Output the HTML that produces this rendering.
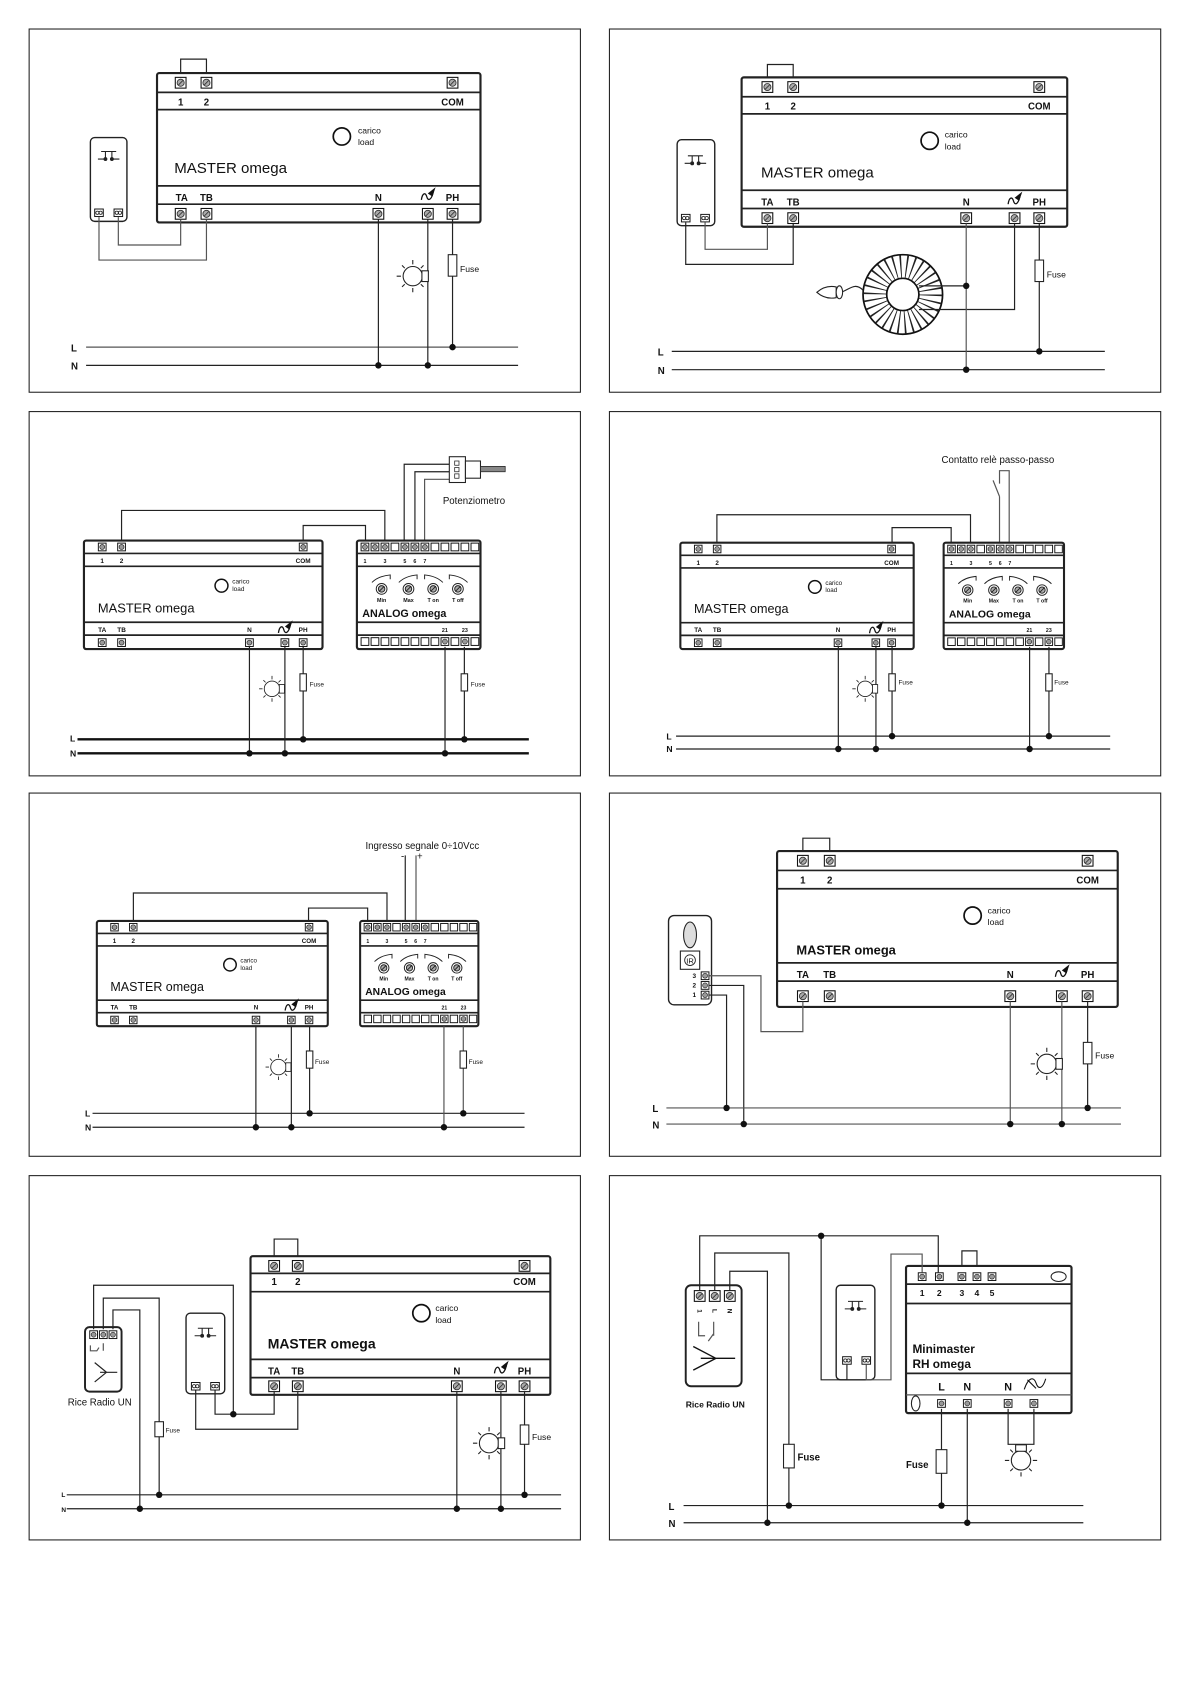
<!DOCTYPE html>
<html><head><meta charset="utf-8">
<style>
html,body{margin:0;padding:0;background:#fff}
svg{display:block}
text{font-family:"Liberation Sans",Arial,sans-serif;fill:#111}
.b{font-weight:bold}
.w{fill:none;stroke:#222;stroke-width:1.1}
.g{fill:none;stroke:#555;stroke-width:1.1}
.bx{fill:#fff;stroke:#222;stroke-width:2}
.ln{stroke:#222;stroke-width:1.6}
</style></head><body>
<svg width="1192" height="1685" viewBox="0 0 1109 1568" xmlns="http://www.w3.org/2000/svg">
<defs>
<g id="t"><rect x="-5" y="-5" width="10" height="10" fill="#fff" stroke="#111" stroke-width="1"/><circle r="3.3" fill="#aaa" stroke="#333" stroke-width="0.8"/><line x1="-2" y1="2" x2="2" y2="-2" stroke="#333" stroke-width="0.8"/></g>
<g id="ts"><rect x="-3.6" y="-3.6" width="7.2" height="7.2" fill="#fff" stroke="#111" stroke-width="0.9"/><circle r="2.3" fill="#999" stroke="#222" stroke-width="0.6"/></g>
<g id="sq"><rect x="-3.6" y="-3.6" width="7.2" height="7.2" fill="#fff" stroke="#111" stroke-width="0.9"/></g>
<g id="lamp" fill="none" stroke="#222" stroke-width="1"><circle r="9" fill="#fff"/><rect x="8.5" y="-5" width="6" height="10" fill="#fff"/><path d="M0 -11V-15M0 11V15M-11 0H-15M7.5 -7.5L10 -10M-7.5 -7.5L-10 -10M-7.5 7.5L-10 10M7.5 7.5L10 10"/></g>
<g id="lamp2" fill="none" stroke="#222" stroke-width="1"><circle r="9" fill="#fff"/><rect x="-5" y="-14.5" width="10" height="6" fill="#fff"/><path d="M0 11V15M-11 0H-15M11 0H15M7.5 -7.5L10 -10M-7.5 -7.5L-10 -10M-7.5 7.5L-10 10M7.5 7.5L10 10"/></g>
<g id="pb" fill="none" stroke="#222" stroke-width="1"><path d="M-7 0H7M-3 0V6M3 0V6M-10 7H-3M3 7H10"/><circle cx="-3" cy="7" r="1.3" fill="#222"/><circle cx="3" cy="7" r="1.3" fill="#222"/></g>
<g id="pt"><rect x="-4" y="-3.5" width="8" height="7" fill="#fff" stroke="#111" stroke-width="0.9"/><circle cx="-1.5" r="1.5" fill="none" stroke="#111" stroke-width="0.7"/><circle cx="1.5" r="1.5" fill="none" stroke="#111" stroke-width="0.7"/></g>
<g id="sym" fill="none" stroke="#111" stroke-width="1.2"><path d="M-6 4C-5 -3 -2 -3 -1 1S3 5 5 -3"/><path d="M1 -2L6 -6L4 0Z" fill="#111"/></g>
<g id="knob" fill="none" stroke="#222" stroke-width="0.9"><circle r="5"/><circle r="3" fill="#aaa"/><line x1="-2.5" y1="2.5" x2="2.5" y2="-2.5"/><path d="M-9 -6Q-3 -12 8 -13V-9"/></g>
<g id="knob2" fill="none" stroke="#222" stroke-width="0.9"><circle r="5"/><circle r="3" fill="#aaa"/><line x1="-2.5" y1="2.5" x2="2.5" y2="-2.5"/><path d="M9 -6Q3 -12 -8 -13V-9"/></g>
<g id="dot"><circle r="3" fill="#111"/></g>
</defs>

<!-- ===================== PANEL 1 ===================== -->
<rect x="27" y="27" width="513" height="338" fill="none" stroke="#222" stroke-width="1"/>
<path class="w" d="M168 72V55H192V72"/>
<rect class="bx" x="146" y="68" width="301" height="139" rx="2"/>
<path class="ln" d="M146 86H447M146 102H447M146 173H447M146 190H447"/>
<use href="#t" x="168" y="77"/><use href="#t" x="192" y="77"/><use href="#t" x="421" y="77"/>
<text class="b" x="168" y="98" font-size="9" text-anchor="middle">1</text>
<text class="b" x="192" y="98" font-size="9" text-anchor="middle">2</text>
<text class="b" x="421" y="98" font-size="9" text-anchor="middle">COM</text>
<circle cx="318" cy="127" r="8" fill="none" stroke="#111" stroke-width="1.6"/>
<text x="333" y="124" font-size="8">carico</text><text x="333" y="135" font-size="8">load</text>
<text x="162" y="161" font-size="14">MASTER omega</text>
<text class="b" x="169" y="187" font-size="9" text-anchor="middle">TA</text>
<text class="b" x="192" y="187" font-size="9" text-anchor="middle">TB</text>
<text class="b" x="352" y="187" font-size="9" text-anchor="middle">N</text>
<use href="#sym" x="398" y="182"/>
<text class="b" x="421" y="187" font-size="9" text-anchor="middle">PH</text>
<use href="#t" x="168" y="199"/><use href="#t" x="192" y="199"/><use href="#t" x="352" y="199"/><use href="#t" x="398" y="199"/><use href="#t" x="421" y="199"/>
<rect x="84" y="128" width="34" height="78" rx="4" fill="#fff" stroke="#222" stroke-width="1.3"/>
<use href="#pb" x="101" y="141"/>
<use href="#pt" x="92" y="198"/><use href="#pt" x="110" y="198"/>
<path class="g" d="M110 202V228H168V204M92 202V242H192V204"/>
<text class="b" x="66" y="327" font-size="9">L</text><text class="b" x="66" y="344" font-size="9">N</text>
<path class="g" d="M80 323H482"/><path class="w" d="M80 340H482"/>
<path class="w" d="M352 204V340M398 204V340M421 204V323"/>
<use href="#lamp" x="384" y="257"/>
<rect x="417" y="237" width="8" height="20" fill="#fff" stroke="#222"/>
<text x="428" y="253" font-size="8">Fuse</text>
<use href="#dot" x="421" y="323"/><use href="#dot" x="352" y="340"/><use href="#dot" x="398" y="340"/>

<!-- ===================== PANEL 2 ===================== -->
<rect x="567" y="27" width="513" height="338" fill="none" stroke="#222" stroke-width="1"/>
<path class="w" d="M714 76V60H738V76"/>
<rect class="bx" x="690" y="72" width="303" height="139" rx="2"/>
<path class="ln" d="M690 90H993M690 106H993M690 177H993M690 194H993"/>
<use href="#t" x="714" y="81"/><use href="#t" x="738" y="81"/><use href="#t" x="967" y="81"/>
<text class="b" x="714" y="102" font-size="9" text-anchor="middle">1</text>
<text class="b" x="738" y="102" font-size="9" text-anchor="middle">2</text>
<text class="b" x="967" y="102" font-size="9" text-anchor="middle">COM</text>
<circle cx="865" cy="131" r="8" fill="none" stroke="#111" stroke-width="1.6"/>
<text x="879" y="128" font-size="8">carico</text><text x="879" y="139" font-size="8">load</text>
<text x="708" y="165" font-size="14">MASTER omega</text>
<text class="b" x="714" y="191" font-size="9" text-anchor="middle">TA</text>
<text class="b" x="738" y="191" font-size="9" text-anchor="middle">TB</text>
<text class="b" x="899" y="191" font-size="9" text-anchor="middle">N</text>
<use href="#sym" x="944" y="186"/>
<text class="b" x="967" y="191" font-size="9" text-anchor="middle">PH</text>
<use href="#t" x="714" y="203"/><use href="#t" x="738" y="203"/><use href="#t" x="899" y="203"/><use href="#t" x="944" y="203"/><use href="#t" x="967" y="203"/>
<rect x="630" y="130" width="35" height="80" rx="4" fill="#fff" stroke="#222" stroke-width="1.3"/>
<use href="#pb" x="647" y="145"/>
<use href="#pt" x="638" y="203"/><use href="#pt" x="656" y="203"/>
<path class="w" d="M638 207V246H738V208"/><path class="g" d="M656 207V232H714V208"/>
<circle cx="840" cy="274" r="37" fill="#fff" stroke="#111" stroke-width="1.6"/>
<circle cx="840" cy="274" r="26" fill="none" stroke="#222" stroke-width="21" stroke-dasharray="1.2 4.25"/>
<circle cx="840" cy="274" r="15" fill="#fff" stroke="#111" stroke-width="1.6"/>
<path class="w" d="M803 270C795 262 790 270 782 272"/>
<path d="M760 272Q768 265 778 267V277Q768 279 760 272Z" fill="#fff" stroke="#222"/>
<ellipse cx="781" cy="272" rx="3" ry="6" fill="#fff" stroke="#222"/>
<path class="w" d="M855 266H899M855 288H944V208"/>
<text class="b" x="612" y="331" font-size="9">L</text><text class="b" x="612" y="348" font-size="9">N</text>
<path class="w" d="M625 327H1028M625 344H1028"/>
<path class="g" d="M899 208V344"/><path class="w" d="M967 208V327"/>
<rect x="963" y="242" width="8" height="20" fill="#fff" stroke="#222"/>
<text x="974" y="258" font-size="8">Fuse</text>
<use href="#dot" x="899" y="266"/><use href="#dot" x="967" y="327"/><use href="#dot" x="899" y="344"/>

<!-- ===================== PANEL 3 ===================== -->
<rect x="27" y="383" width="513" height="339" fill="none" stroke="#222" stroke-width="1"/>
<path class="w" d="M113 504V475H358V504M282 504V489H340V504"/>
<path class="w" d="M376 504V432H420M386 504V439H420"/><path class="g" d="M395 504V446H420"/>
<rect x="418" y="425" width="15" height="24" fill="#fff" stroke="#222"/>
<path d="M423 429h4v4h-4zM423 435h4v4h-4zM423 441h4v4h-4z" fill="none" stroke="#222" stroke-width="0.7"/>
<rect x="433" y="429" width="14" height="16" fill="#fff" stroke="#222"/>
<rect x="447" y="434" width="23" height="5" fill="#888" stroke="#222" stroke-width="0.7"/>
<text x="412" y="469" font-size="9">Potenziometro</text>
<g transform="translate(78,503)">
<rect class="bx" x="0" y="0" width="222" height="101" rx="2"/>
<path class="ln" d="M0 12H222M0 24H222M0 76H222M0 88H222"/>
<use href="#ts" x="17" y="6"/><use href="#ts" x="35" y="6"/><use href="#ts" x="204" y="6"/>
<text class="b" x="17" y="21" font-size="6" text-anchor="middle">1</text><text class="b" x="35" y="21" font-size="6" text-anchor="middle">2</text><text class="b" x="204" y="21" font-size="6" text-anchor="middle">COM</text>
<circle cx="128" cy="42" r="6" fill="none" stroke="#111" stroke-width="1.4"/>
<text x="138" y="40" font-size="6">carico</text><text x="138" y="47" font-size="6">load</text>
<text x="13" y="67" font-size="12">MASTER omega</text>
<text class="b" x="17" y="85" font-size="6" text-anchor="middle">TA</text><text class="b" x="35" y="85" font-size="6" text-anchor="middle">TB</text><text class="b" x="154" y="85" font-size="6" text-anchor="middle">N</text><use href="#sym" x="187" y="82" transform="scale(1)"/><text class="b" x="204" y="85" font-size="6" text-anchor="middle">PH</text>
<use href="#ts" x="17" y="95"/><use href="#ts" x="35" y="95"/><use href="#ts" x="154" y="95"/><use href="#ts" x="187" y="95"/><use href="#ts" x="204" y="95"/>
</g>
<g transform="translate(332,503)">
<rect class="bx" x="0" y="0" width="115" height="101" rx="2"/>
<path class="ln" d="M0 12H115M0 24H115M0 76H115M0 88H115"/>
<use href="#ts" x="7.5" y="6"/><use href="#ts" x="16.8" y="6"/><use href="#ts" x="26.1" y="6"/><use href="#sq" x="35.4" y="6"/><use href="#ts" x="44.7" y="6"/><use href="#ts" x="54" y="6"/><use href="#ts" x="63.3" y="6"/><use href="#sq" x="72.6" y="6"/><use href="#sq" x="81.9" y="6"/><use href="#sq" x="91.2" y="6"/><use href="#sq" x="100.5" y="6"/><use href="#sq" x="109.8" y="6"/>
<text class="b" x="7.5" y="21" font-size="5" text-anchor="middle">1</text><text class="b" x="26.1" y="21" font-size="5" text-anchor="middle">3</text><text class="b" x="44.7" y="21" font-size="5" text-anchor="middle">5</text><text class="b" x="54" y="21" font-size="5" text-anchor="middle">6</text><text class="b" x="63.3" y="21" font-size="5" text-anchor="middle">7</text>
<use href="#knob" x="23" y="45"/><use href="#knob" x="48" y="45"/><use href="#knob2" x="71" y="45"/><use href="#knob2" x="94" y="45"/>
<text class="b" x="23" y="57" font-size="5" text-anchor="middle">Min</text><text class="b" x="48" y="57" font-size="5" text-anchor="middle">Max</text><text class="b" x="71" y="57" font-size="5" text-anchor="middle">T on</text><text class="b" x="94" y="57" font-size="5" text-anchor="middle">T off</text>
<text class="b" x="5" y="71" font-size="10">ANALOG omega</text>
<text class="b" x="81.9" y="85" font-size="5" text-anchor="middle">21</text><text class="b" x="100.5" y="85" font-size="5" text-anchor="middle">23</text>
<use href="#sq" x="7.5" y="94"/><use href="#sq" x="16.8" y="94"/><use href="#sq" x="26.1" y="94"/><use href="#sq" x="35.4" y="94"/><use href="#sq" x="44.7" y="94"/><use href="#sq" x="54" y="94"/><use href="#sq" x="63.3" y="94"/><use href="#sq" x="72.6" y="94"/><use href="#ts" x="81.9" y="94"/><use href="#sq" x="91.2" y="94"/><use href="#ts" x="100.5" y="94"/><use href="#sq" x="109.8" y="94"/>
</g>
<text class="b" x="65" y="690" font-size="8">L</text><text class="b" x="65" y="704" font-size="8">N</text>
<path d="M72 688H492M72 701H492" stroke="#111" stroke-width="2.2"/>
<path class="w" d="M232 602V701M265 602V701M282 602V688M414 602V701M432 602V688"/>
<use href="#lamp" x="253" y="641" transform="translate(253,641) scale(0.8) translate(-253,-641)"/>
<rect x="279" y="627" width="6" height="16" fill="#fff" stroke="#222"/><text x="288" y="639" font-size="6">Fuse</text>
<rect x="429" y="627" width="6" height="16" fill="#fff" stroke="#222"/><text x="438" y="639" font-size="6">Fuse</text>
<use href="#dot" x="282" y="688"/><use href="#dot" x="432" y="688"/><use href="#dot" x="232" y="701"/><use href="#dot" x="265" y="701"/><use href="#dot" x="414" y="701"/>

<!-- ===================== PANEL 4 ===================== -->
<rect x="567" y="383" width="513" height="339" fill="none" stroke="#222" stroke-width="1"/>
<text x="876" y="431" font-size="9">Contatto relè passo-passo</text>
<path class="w" d="M667 506V479H903V506M830 506V491H885V506"/>
<path class="g" d="M930 506V462M930 462L924 447M930 450V438H939V506"/>
<g transform="translate(633,505) scale(0.978,0.98)">
<rect class="bx" x="0" y="0" width="222" height="101" rx="2"/>
<path class="ln" d="M0 12H222M0 24H222M0 76H222M0 88H222"/>
<use href="#ts" x="17" y="6"/><use href="#ts" x="35" y="6"/><use href="#ts" x="201" y="6"/>
<text class="b" x="17" y="21" font-size="6" text-anchor="middle">1</text><text class="b" x="35" y="21" font-size="6" text-anchor="middle">2</text><text class="b" x="201" y="21" font-size="6" text-anchor="middle">COM</text>
<circle cx="128" cy="42" r="6" fill="none" stroke="#111" stroke-width="1.4"/>
<text x="138" y="40" font-size="6">carico</text><text x="138" y="47" font-size="6">load</text>
<text x="13" y="67" font-size="12">MASTER omega</text>
<text class="b" x="17" y="85" font-size="6" text-anchor="middle">TA</text><text class="b" x="35" y="85" font-size="6" text-anchor="middle">TB</text><text class="b" x="150" y="85" font-size="6" text-anchor="middle">N</text><use href="#sym" x="186" y="82"/><text class="b" x="201" y="85" font-size="6" text-anchor="middle">PH</text>
<use href="#ts" x="17" y="95"/><use href="#ts" x="35" y="95"/><use href="#ts" x="150" y="95"/><use href="#ts" x="186" y="95"/><use href="#ts" x="201" y="95"/>
</g>
<g transform="translate(878,505) scale(0.974,0.98)">
<rect class="bx" x="0" y="0" width="115" height="101" rx="2"/>
<path class="ln" d="M0 12H115M0 24H115M0 76H115M0 88H115"/>
<use href="#ts" x="7.5" y="6"/><use href="#ts" x="16.8" y="6"/><use href="#ts" x="26.1" y="6"/><use href="#sq" x="35.4" y="6"/><use href="#ts" x="44.7" y="6"/><use href="#ts" x="54" y="6"/><use href="#ts" x="63.3" y="6"/><use href="#sq" x="72.6" y="6"/><use href="#sq" x="81.9" y="6"/><use href="#sq" x="91.2" y="6"/><use href="#sq" x="100.5" y="6"/><use href="#sq" x="109.8" y="6"/>
<text class="b" x="7.5" y="21" font-size="5" text-anchor="middle">1</text><text class="b" x="26.1" y="21" font-size="5" text-anchor="middle">3</text><text class="b" x="44.7" y="21" font-size="5" text-anchor="middle">5</text><text class="b" x="54" y="21" font-size="5" text-anchor="middle">6</text><text class="b" x="63.3" y="21" font-size="5" text-anchor="middle">7</text>
<use href="#knob" x="23" y="45"/><use href="#knob" x="48" y="45"/><use href="#knob2" x="71" y="45"/><use href="#knob2" x="94" y="45"/>
<text class="b" x="23" y="57" font-size="5" text-anchor="middle">Min</text><text class="b" x="48" y="57" font-size="5" text-anchor="middle">Max</text><text class="b" x="71" y="57" font-size="5" text-anchor="middle">T on</text><text class="b" x="94" y="57" font-size="5" text-anchor="middle">T off</text>
<text class="b" x="5" y="71" font-size="10">ANALOG omega</text>
<text class="b" x="81.9" y="85" font-size="5" text-anchor="middle">21</text><text class="b" x="100.5" y="85" font-size="5" text-anchor="middle">23</text>
<use href="#sq" x="7.5" y="94"/><use href="#sq" x="16.8" y="94"/><use href="#sq" x="26.1" y="94"/><use href="#sq" x="35.4" y="94"/><use href="#sq" x="44.7" y="94"/><use href="#sq" x="54" y="94"/><use href="#sq" x="63.3" y="94"/><use href="#sq" x="72.6" y="94"/><use href="#ts" x="81.9" y="94"/><use href="#sq" x="91.2" y="94"/><use href="#ts" x="100.5" y="94"/><use href="#sq" x="109.8" y="94"/>
</g>
<text class="b" x="620" y="688" font-size="8">L</text><text class="b" x="620" y="700" font-size="8">N</text>
<path class="w" d="M629 685H1033M629 697H1033"/>
<path class="w" d="M780 602V697M815 602V697M830 602V685M958 602V697M976 602V685"/>
<use href="#lamp" x="805" y="641" transform="translate(805,641) scale(0.8) translate(-805,-641)"/>
<rect x="827" y="627" width="6" height="16" fill="#fff" stroke="#222"/><text x="836" y="637" font-size="6">Fuse</text>
<rect x="973" y="627" width="6" height="16" fill="#fff" stroke="#222"/><text x="981" y="637" font-size="6">Fuse</text>
<use href="#dot" x="830" y="685"/><use href="#dot" x="976" y="685"/><use href="#dot" x="780" y="697"/><use href="#dot" x="815" y="697"/><use href="#dot" x="958" y="697"/>

<!-- ===================== PANEL 5 ===================== -->
<rect x="27" y="738" width="513" height="338" fill="none" stroke="#222" stroke-width="1"/>
<text x="340" y="790" font-size="9">Ingresso segnale 0÷10Vcc</text>
<text x="373" y="800" font-size="9">-</text><text x="388" y="800" font-size="9">+</text>
<path class="w" d="M377 858V796"/><path class="g" d="M387 858V796"/>
<path class="w" d="M124 858V831H360V858M287 858V845H342V858"/>
<g transform="translate(90,857) scale(0.968,0.97)">
<rect class="bx" x="0" y="0" width="222" height="101" rx="2"/>
<path class="ln" d="M0 12H222M0 24H222M0 76H222M0 88H222"/>
<use href="#ts" x="17" y="6"/><use href="#ts" x="35" y="6"/><use href="#ts" x="204" y="6"/>
<text class="b" x="17" y="21" font-size="6" text-anchor="middle">1</text><text class="b" x="35" y="21" font-size="6" text-anchor="middle">2</text><text class="b" x="204" y="21" font-size="6" text-anchor="middle">COM</text>
<circle cx="128" cy="42" r="6" fill="none" stroke="#111" stroke-width="1.4"/>
<text x="138" y="40" font-size="6">carico</text><text x="138" y="47" font-size="6">load</text>
<text x="13" y="67" font-size="12">MASTER omega</text>
<text class="b" x="17" y="85" font-size="6" text-anchor="middle">TA</text><text class="b" x="35" y="85" font-size="6" text-anchor="middle">TB</text><text class="b" x="153" y="85" font-size="6" text-anchor="middle">N</text><use href="#sym" x="187" y="82"/><text class="b" x="204" y="85" font-size="6" text-anchor="middle">PH</text>
<use href="#ts" x="17" y="95"/><use href="#ts" x="35" y="95"/><use href="#ts" x="153" y="95"/><use href="#ts" x="187" y="95"/><use href="#ts" x="204" y="95"/>
</g>
<g transform="translate(335,857) scale(0.957,0.97)">
<rect class="bx" x="0" y="0" width="115" height="101" rx="2"/>
<path class="ln" d="M0 12H115M0 24H115M0 76H115M0 88H115"/>
<use href="#ts" x="7.5" y="6"/><use href="#ts" x="16.8" y="6"/><use href="#ts" x="26.1" y="6"/><use href="#sq" x="35.4" y="6"/><use href="#ts" x="44.7" y="6"/><use href="#ts" x="54" y="6"/><use href="#ts" x="63.3" y="6"/><use href="#sq" x="72.6" y="6"/><use href="#sq" x="81.9" y="6"/><use href="#sq" x="91.2" y="6"/><use href="#sq" x="100.5" y="6"/><use href="#sq" x="109.8" y="6"/>
<text class="b" x="7.5" y="21" font-size="5" text-anchor="middle">1</text><text class="b" x="26.1" y="21" font-size="5" text-anchor="middle">3</text><text class="b" x="44.7" y="21" font-size="5" text-anchor="middle">5</text><text class="b" x="54" y="21" font-size="5" text-anchor="middle">6</text><text class="b" x="63.3" y="21" font-size="5" text-anchor="middle">7</text>
<use href="#knob" x="23" y="45"/><use href="#knob" x="48" y="45"/><use href="#knob2" x="71" y="45"/><use href="#knob2" x="94" y="45"/>
<text class="b" x="23" y="57" font-size="5" text-anchor="middle">Min</text><text class="b" x="48" y="57" font-size="5" text-anchor="middle">Max</text><text class="b" x="71" y="57" font-size="5" text-anchor="middle">T on</text><text class="b" x="94" y="57" font-size="5" text-anchor="middle">T off</text>
<text class="b" x="5" y="71" font-size="10">ANALOG omega</text>
<text class="b" x="81.9" y="85" font-size="5" text-anchor="middle">21</text><text class="b" x="100.5" y="85" font-size="5" text-anchor="middle">23</text>
<use href="#sq" x="7.5" y="94"/><use href="#sq" x="16.8" y="94"/><use href="#sq" x="26.1" y="94"/><use href="#sq" x="35.4" y="94"/><use href="#sq" x="44.7" y="94"/><use href="#sq" x="54" y="94"/><use href="#sq" x="63.3" y="94"/><use href="#sq" x="72.6" y="94"/><use href="#ts" x="81.9" y="94"/><use href="#sq" x="91.2" y="94"/><use href="#ts" x="100.5" y="94"/><use href="#sq" x="109.8" y="94"/>
</g>
<text class="b" x="79" y="1039" font-size="8">L</text><text class="b" x="79" y="1052" font-size="8">N</text>
<path class="w" d="M86 1036H488M86 1049H488"/>
<path class="w" d="M238 955V1049M271 955V1049M288 955V1036"/><path class="g" d="M413 955V1049M431 955V1036"/>
<use href="#lamp" x="259" y="993" transform="translate(259,993) scale(0.8) translate(-259,-993)"/>
<rect x="285" y="978" width="6" height="16" fill="#fff" stroke="#222"/><text x="293" y="990" font-size="6">Fuse</text>
<rect x="428" y="978" width="6" height="16" fill="#fff" stroke="#222"/><text x="436" y="990" font-size="6">Fuse</text>
<use href="#dot" x="288" y="1036"/><use href="#dot" x="431" y="1036"/><use href="#dot" x="238" y="1049"/><use href="#dot" x="271" y="1049"/><use href="#dot" x="413" y="1049"/>

<!-- ===================== PANEL 6 ===================== -->
<rect x="567" y="738" width="513" height="338" fill="none" stroke="#222" stroke-width="1"/>
<path class="w" d="M747 797V780H772V797"/>
<rect class="bx" x="723" y="792" width="317" height="145" rx="2"/>
<path class="ln" d="M723 810H1040M723 827H1040M723 896H1040M723 913H1040"/>
<use href="#t" x="747" y="801"/><use href="#t" x="772" y="801"/><use href="#t" x="1012" y="801"/>
<text class="b" x="747" y="822" font-size="9" text-anchor="middle">1</text>
<text class="b" x="772" y="822" font-size="9" text-anchor="middle">2</text>
<text class="b" x="1012" y="822" font-size="9" text-anchor="middle">COM</text>
<circle cx="905" cy="852" r="8" fill="none" stroke="#111" stroke-width="1.6"/>
<text x="919" y="850" font-size="8">carico</text><text x="919" y="861" font-size="8">load</text>
<text class="b" x="741" y="888" font-size="12">MASTER omega</text>
<text class="b" x="747" y="910" font-size="9" text-anchor="middle">TA</text>
<text class="b" x="772" y="910" font-size="9" text-anchor="middle">TB</text>
<text class="b" x="940" y="910" font-size="9" text-anchor="middle">N</text>
<use href="#sym" x="988" y="905"/>
<text class="b" x="1012" y="910" font-size="9" text-anchor="middle">PH</text>
<use href="#t" x="747" y="927"/><use href="#t" x="772" y="927"/><use href="#t" x="940" y="927"/><use href="#t" x="988" y="927"/><use href="#t" x="1012" y="927"/>
<rect x="622" y="852" width="40" height="83" rx="5" fill="#fff" stroke="#222" stroke-width="1.3"/>
<ellipse cx="642" cy="870" rx="6" ry="12" fill="#ddd" stroke="#222"/>
<rect x="633" y="885" width="18" height="17" fill="#fff" stroke="#222"/>
<circle cx="642" cy="893.5" r="5" fill="none" stroke="#222" stroke-width="0.8"/>
<text x="642" y="896.5" font-size="7" text-anchor="middle">IR</text>
<use href="#ts" x="656" y="908"/><use href="#ts" x="656" y="917"/><use href="#ts" x="656" y="926"/>
<text class="b" x="646" y="910" font-size="6" text-anchor="middle">3</text><text class="b" x="646" y="919" font-size="6" text-anchor="middle">2</text><text class="b" x="646" y="928" font-size="6" text-anchor="middle">1</text>
<path class="g" d="M660 908H708V960H747V932"/>
<path class="w" d="M660 917H692V1046M660 926H676V1031"/>
<text class="b" x="607" y="1035" font-size="9">L</text><text class="b" x="607" y="1050" font-size="9">N</text>
<path class="g" d="M620 1031H1043M620 1046H1043"/>
<path class="g" d="M940 932V1046M988 932V1046"/><path class="w" d="M1012 932V1031"/>
<use href="#lamp" x="974" y="990"/>
<rect x="1008" y="970" width="8" height="20" fill="#fff" stroke="#222"/><text x="1019" y="985" font-size="8">Fuse</text>
<use href="#dot" x="676" y="1031"/><use href="#dot" x="1012" y="1031"/><use href="#dot" x="692" y="1046"/><use href="#dot" x="940" y="1046"/><use href="#dot" x="988" y="1046"/>

<!-- ===================== PANEL 7 ===================== -->
<rect x="27" y="1094" width="513" height="339" fill="none" stroke="#222" stroke-width="1"/>
<path class="w" d="M255 1173V1153H277V1173"/>
<rect class="bx" x="233" y="1169" width="279" height="129" rx="2"/>
<path class="ln" d="M233 1185H512M233 1202H512M233 1265H512M233 1282H512"/>
<use href="#t" x="255" y="1178"/><use href="#t" x="277" y="1178"/><use href="#t" x="488" y="1178"/>
<text class="b" x="255" y="1196" font-size="9" text-anchor="middle">1</text>
<text class="b" x="277" y="1196" font-size="9" text-anchor="middle">2</text>
<text class="b" x="488" y="1196" font-size="9" text-anchor="middle">COM</text>
<circle cx="392" cy="1222" r="8" fill="none" stroke="#111" stroke-width="1.6"/>
<text x="405" y="1220" font-size="8">carico</text><text x="405" y="1231" font-size="8">load</text>
<text class="b" x="249" y="1255" font-size="13">MASTER omega</text>
<text class="b" x="255" y="1279" font-size="9" text-anchor="middle">TA</text>
<text class="b" x="277" y="1279" font-size="9" text-anchor="middle">TB</text>
<text class="b" x="425" y="1279" font-size="9" text-anchor="middle">N</text>
<use href="#sym" x="466" y="1274"/>
<text class="b" x="488" y="1279" font-size="9" text-anchor="middle">PH</text>
<use href="#t" x="255" y="1290"/><use href="#t" x="277" y="1290"/><use href="#t" x="425" y="1290"/><use href="#t" x="466" y="1290"/><use href="#t" x="488" y="1290"/>
<rect x="79" y="1235" width="34" height="60" rx="4" fill="#fff" stroke="#222" stroke-width="1.8"/>
<use href="#ts" x="87" y="1242"/><use href="#ts" x="96" y="1242"/><use href="#ts" x="105" y="1242"/>
<path class="g" d="M84 1252V1257H90L92 1254M96 1250V1257" stroke-width="0.7"/>
<path class="w" d="M88 1268L99 1277L88 1286M93 1277H109"/>
<text x="63" y="1308" font-size="9">Rice Radio UN</text>
<rect x="173" y="1222" width="36" height="75" rx="4" fill="#fff" stroke="#222" stroke-width="1.3"/>
<use href="#pb" x="191" y="1236"/>
<use href="#pt" x="182" y="1290"/><use href="#pt" x="200" y="1290"/>
<path class="w" d="M87 1237V1196H217V1316M200 1294V1316H255V1295M182 1294V1330H277V1295"/>
<path class="w" d="M96 1237V1208H148V1391M105 1237V1219H130V1404"/>
<rect x="144" y="1323" width="8" height="14" fill="#fff" stroke="#222"/><text x="154" y="1333" font-size="6">Fuse</text>
<text class="b" x="57" y="1393" font-size="6">L</text><text class="b" x="57" y="1407" font-size="6">N</text>
<path class="w" d="M62 1391H522M62 1404H522"/>
<path class="w" d="M425 1295V1404M466 1295V1404M488 1295V1391"/>
<use href="#lamp" x="455" y="1343"/>
<rect x="484" y="1326" width="8" height="18" fill="#fff" stroke="#222"/><text x="495" y="1340" font-size="8">Fuse</text>
<use href="#dot" x="217" y="1316"/><use href="#dot" x="148" y="1391"/><use href="#dot" x="488" y="1391"/><use href="#dot" x="130" y="1404"/><use href="#dot" x="425" y="1404"/><use href="#dot" x="466" y="1404"/>

<!-- ===================== PANEL 8 ===================== -->
<rect x="567" y="1094" width="513" height="339" fill="none" stroke="#222" stroke-width="1"/>
<path class="w" d="M895 1184V1164H909V1184"/>
<rect class="bx" x="843" y="1178" width="154" height="137" rx="2"/>
<path class="ln" d="M843 1195H997M843 1213H997M843 1278H997"/><path class="g" d="M843 1298H997"/>
<use href="#ts" x="858" y="1188"/><use href="#ts" x="874" y="1188"/><use href="#ts" x="895" y="1188"/><use href="#ts" x="909" y="1188"/><use href="#ts" x="923" y="1188"/>
<ellipse cx="985" cy="1188" rx="7" ry="4.5" fill="none" stroke="#222"/>
<text class="b" x="858" y="1206" font-size="8" text-anchor="middle">1</text><text class="b" x="874" y="1206" font-size="8" text-anchor="middle">2</text><text class="b" x="895" y="1206" font-size="8" text-anchor="middle">3</text><text class="b" x="909" y="1206" font-size="8" text-anchor="middle">4</text><text class="b" x="923" y="1206" font-size="8" text-anchor="middle">5</text>
<text class="b" x="849" y="1259" font-size="11">Minimaster</text>
<text class="b" x="849" y="1273" font-size="11">RH omega</text>
<text class="b" x="876" y="1294" font-size="10" text-anchor="middle">L</text><text class="b" x="900" y="1294" font-size="10" text-anchor="middle">N</text><text class="b" x="938" y="1294" font-size="10" text-anchor="middle">N</text>
<path d="M953 1293C957 1281 962 1281 964 1287S970 1293 973 1283M956 1284L964 1292" fill="none" stroke="#111" stroke-width="1"/>
<ellipse cx="852" cy="1306" rx="4" ry="7" fill="none" stroke="#222"/>
<use href="#ts" x="876" y="1306"/><use href="#ts" x="900" y="1306"/><use href="#ts" x="938" y="1306"/><use href="#ts" x="962" y="1306"/>
<rect x="638" y="1196" width="52" height="94" rx="5" fill="#fff" stroke="#222" stroke-width="1.8"/>
<use href="#t" x="651" y="1206"/><use href="#t" x="665" y="1206"/><use href="#t" x="679" y="1206"/>
<text class="b" x="651" y="1222" font-size="6" text-anchor="middle" transform="rotate(90 651 1220)">1</text>
<text class="b" x="665" y="1222" font-size="6" text-anchor="middle" transform="rotate(90 665 1220)">L</text>
<text class="b" x="679" y="1222" font-size="6" text-anchor="middle" transform="rotate(90 679 1220)">N</text>
<path class="g" d="M650 1230V1243H656M659 1248L664 1241M664 1230V1243" stroke-width="0.8"/>
<path d="M645 1253L666 1264L645 1275M652 1264H684" fill="none" stroke="#111" stroke-width="1.3"/>
<text class="b" x="638" y="1310" font-size="8">Rice Radio UN</text>
<rect x="778" y="1196" width="36" height="88" rx="4" fill="#fff" stroke="#222" stroke-width="1.3"/>
<use href="#pb" x="796" y="1211"/>
<use href="#pt" x="788" y="1266"/><use href="#pt" x="806" y="1266"/>
<path class="w" d="M651 1201V1150H873V1184M764 1150V1284H788V1270"/>
<path class="g" d="M806 1270V1284H829V1167H858V1184"/>
<path class="w" d="M665 1201V1166H734V1401M679 1201V1183H714V1417"/>
<rect x="729" y="1344" width="10" height="22" fill="#fff" stroke="#222"/><text class="b" x="742" y="1359" font-size="9">Fuse</text>
<path class="w" d="M876 1311V1401M900 1311V1417M938 1311V1344H962V1311"/>
<rect x="871" y="1349" width="10" height="22" fill="#fff" stroke="#222"/><text class="b" x="843" y="1366" font-size="9">Fuse</text>
<use href="#lamp2" x="950" y="1359"/>
<text class="b" x="622" y="1405" font-size="9">L</text><text class="b" x="622" y="1421" font-size="9">N</text>
<path class="w" d="M636 1401H1008M636 1417H1008"/>
<use href="#dot" x="764" y="1150"/><use href="#dot" x="734" y="1401"/><use href="#dot" x="876" y="1401"/><use href="#dot" x="714" y="1417"/><use href="#dot" x="900" y="1417"/>
</svg>
</body></html>
